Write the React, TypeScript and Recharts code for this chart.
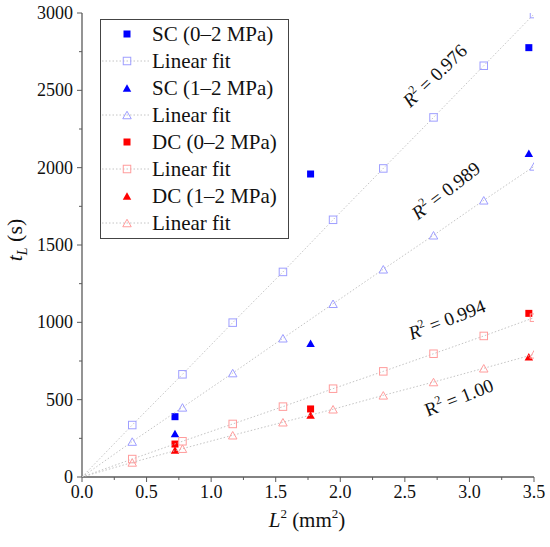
import React from 'react';
import { ScatterChart, Scatter, XAxis, YAxis, ReferenceDot } from 'recharts';

// ---- data ----
const fitX = [0.389, 0.778, 1.167, 1.556, 1.944, 2.333, 2.722, 3.111, 3.5];
const scFitA = [336, 664, 998, 1326, 1663, 1995, 2325, 2659, 2993];
const scFitB = [229, 450, 672, 897, 1120, 1343, 1563, 1789, 2008];
const dcFitA = [116, 231, 343, 455, 571, 683, 797, 912, 1030];
const dcFitB = [94, 183, 270, 354, 438, 528, 614, 703, 793];

const measX = [0.72, 1.77, 3.46];
const scA = [390, 1959, 2776];
const scB = [282, 864, 2094];
const dcA = [213, 440, 1058];
const dcB = [175, 401, 778];

const xTicks = [0, 0.25, 0.5, 0.75, 1, 1.25, 1.5, 1.75, 2, 2.25, 2.5, 2.75, 3, 3.25, 3.5];
const yTicks = [0, 250, 500, 750, 1000, 1250, 1500, 1750, 2000, 2250, 2500, 2750, 3000];

const legendLabels = [
  'SC (0–2 MPa)', 'Linear fit', 'SC (1–2 MPa)', 'Linear fit',
  'DC (0–2 MPa)', 'Linear fit', 'DC (1–2 MPa)', 'Linear fit',
];

const r2Text = ['0.976', '0.989', '0.994', '1.00'];
const r2X = [2.734, 2.82, 2.827, 2.92];
const r2Y = [2593, 1849, 1015, 511];
const r2Angle = [-44, -38, -21, -21.5];
const r2Italic = [true, true, true, false];

// ---- styles ----
const FONT = "'Times New Roman', Times, 'Liberation Serif', 'DejaVu Serif', 'Noto Serif', FreeSerif, serif";
const FS = { fontFamily: FONT };
const AXIS = '#5a5a5a';
const BLUE = '#0000ff';
const RED = '#ff0000';
const LBLUE = '#9e9eff';
const LRED = '#ff9c9c';
const FITLINE = '#c4c4c4';

const toPts = (xs: number[], ys: number[], origin = false) => {
  const pts = xs.map((x, i) => ({ x, y: ys[i] }));
  return origin ? [{ x: 0, y: 0 }, ...pts] : pts;
};

const Marker = ({ kind, filled, color, cx, cy }: any) => {
  if (kind === 'sq') {
    const s = filled ? 7 : 7.5;
    return (
      <rect x={cx - s / 2} y={cy - s / 2} width={s} height={s}
        fill={filled ? color : 'none'} stroke={color} strokeWidth={filled ? 0 : 1} />
    );
  }
  const w = 8.5, h = 7.5;
  return (
    <polygon points={`${cx - w / 2},${cy + h / 2} ${cx + w / 2},${cy + h / 2} ${cx},${cy - h / 2}`}
      fill={filled ? color : 'none'} stroke={color} strokeWidth={filled ? 0 : 1} />
  );
};

const shapeFn = (kind: string, filled: boolean, color: string) => (p: any) => {
  if (p.payload && p.payload.x === 0) return <g />;
  return <Marker kind={kind} filled={filled} color={color} cx={p.cx} cy={p.cy} />;
};

const XTick = (props: any) => {
  const { x, y, payload } = props;
  const v = payload.value;
  const major = Math.abs(v * 2 - Math.round(v * 2)) < 1e-6;
  return (
    <g>
      <line x1={x} x2={x} y1={y} y2={y + (major ? 5 : 3)} stroke={AXIS} strokeWidth={1} />
      {major && (
        <text x={x} y={y + 21} textAnchor="middle" fontSize={18} style={FS} fill="#111">
          {v.toFixed(1)}
        </text>
      )}
    </g>
  );
};

const YTick = (props: any) => {
  const { x, y, payload } = props;
  const v = payload.value;
  const major = v % 500 === 0;
  return (
    <g>
      <line x1={x - (major ? 5 : 3)} x2={x} y1={y} y2={y} stroke={AXIS} strokeWidth={1} />
      {major && (
        <text x={x - 9} y={y + 6} textAnchor="end" fontSize={18} style={FS} fill="#111">
          {v}
        </text>
      )}
    </g>
  );
};

const R2Label = ({ cx, cy, text, angle, italic }: any) => (
  <text x={cx} y={cy + 6} textAnchor="middle" fontSize={19} style={FS} fill="#111"
    transform={`rotate(${angle} ${cx} ${cy})`}>
    <tspan fontStyle={italic ? 'italic' : 'normal'}>R</tspan>
    <tspan fontSize={12} dy={-8}>2</tspan>
    <tspan dy={8}> = {text}</tspan>
  </text>
);

const Legend = () => {
  const rows = legendLabels.map((label, i) => {
    const cy = 15 + 27 * i;
    const isFit = i % 2 === 1;
    const kind = i % 4 < 2 ? 'sq' : 'tri';
    const base = i < 4 ? BLUE : RED;
    const light = i < 4 ? LBLUE : LRED;
    return (
      <g key={i}>
        {isFit && (
          <line x1={2} x2={51} y1={cy} y2={cy} stroke={FITLINE} strokeWidth={1} strokeDasharray="1.5 2" />
        )}
        <Marker kind={kind} filled={!isFit} color={isFit ? light : base} cx={27} cy={cy} />
        <text x={52} y={cy + 7} fontSize={21} style={FS} fill="#111">{label}</text>
      </g>
    );
  });
  return (
    <svg width={189} height={220}
      style={{ position: 'absolute', left: 100, top: 19, overflow: 'visible', fontFamily: FONT }}>
      <rect x={0.5} y={0.5} width={188} height={219} fill="#fff" stroke="#444" strokeWidth={1} />
      {rows}
    </svg>
  );
};

export default function App() {
  const fitLine = { stroke: FITLINE, strokeWidth: 1, strokeDasharray: '1.5 2' };
  return (
    <div style={{ position: 'absolute', left: 0, top: 0, width: 550, height: 547, background: '#fff', fontFamily: FONT }}>
      <ScatterChart width={550} height={547} margin={{ top: 13, right: 16, left: 0, bottom: 0 }}
        style={{ fontFamily: FONT }}>
        <XAxis dataKey="x" type="number" domain={[0, 3.5]} ticks={xTicks} interval={0}
          height={70} tickSize={0} tickMargin={0} tickLine={false} tick={<XTick />}
          axisLine={{ stroke: AXIS, strokeWidth: 1.3 }} allowDataOverflow />
        <XAxis xAxisId="top" orientation="top" dataKey="x" type="number" domain={[0, 3.5]}
          height={0} tick={false} tickLine={false} axisLine={{ stroke: AXIS, strokeWidth: 1.3 }} />
        <YAxis dataKey="y" type="number" domain={[0, 3000]} ticks={yTicks} interval={0}
          width={82} tickSize={0} tickMargin={0} tickLine={false} tick={<YTick />}
          axisLine={{ stroke: AXIS, strokeWidth: 1.3 }} allowDataOverflow />
        <YAxis yAxisId="right" orientation="right" dataKey="y" type="number" domain={[0, 3000]}
          width={0} tick={false} tickLine={false} axisLine={{ stroke: AXIS, strokeWidth: 1.3 }} />

        <Scatter data={toPts(measX, scA)} shape={shapeFn('sq', true, BLUE)} isAnimationActive={false} />
        <Scatter data={toPts(fitX, scFitA, true)} line={fitLine} lineType="joint"
          shape={shapeFn('sq', false, LBLUE)} isAnimationActive={false} />
        <Scatter data={toPts(measX, scB)} shape={shapeFn('tri', true, BLUE)} isAnimationActive={false} />
        <Scatter data={toPts(fitX, scFitB, true)} line={fitLine} lineType="joint"
          shape={shapeFn('tri', false, LBLUE)} isAnimationActive={false} />
        <Scatter data={toPts(measX, dcA)} shape={shapeFn('sq', true, RED)} isAnimationActive={false} />
        <Scatter data={toPts(fitX, dcFitA, true)} line={fitLine} lineType="joint"
          shape={shapeFn('sq', false, LRED)} isAnimationActive={false} />
        <Scatter data={toPts(measX, dcB)} shape={shapeFn('tri', true, RED)} isAnimationActive={false} />
        <Scatter data={toPts(fitX, dcFitB, true)} line={fitLine} lineType="joint"
          shape={shapeFn('tri', false, LRED)} isAnimationActive={false} />

        {r2Text.map((t, i) => (
          <ReferenceDot key={i} x={r2X[i]} y={r2Y[i]} r={0} ifOverflow="visible"
            shape={(p: any) => <R2Label cx={p.cx} cy={p.cy} text={t} angle={r2Angle[i]} italic={r2Italic[i]} />} />
        ))}
      </ScatterChart>

      <svg width={550} height={547} style={{ position: 'absolute', left: 0, top: 0, pointerEvents: 'none', fontFamily: FONT }}>
        <text x={307} y={527} textAnchor="middle" fontSize={21} style={FS} fill="#111">
          <tspan fontStyle="italic">L</tspan>
          <tspan fontSize={13} dy={-9}>2</tspan>
          <tspan dy={9}> (mm</tspan>
          <tspan fontSize={13} dy={-9}>2</tspan>
          <tspan dy={9}>)</tspan>
        </text>
        <text x={0} y={0} textAnchor="middle" fontSize={22} style={FS} fill="#111"
          transform="translate(22 240) rotate(-90)">
          <tspan fontStyle="italic">t</tspan>
          <tspan fontStyle="italic" fontSize={14} dy={5}>L</tspan>
          <tspan dy={-5}> (s)</tspan>
        </text>
      </svg>
      <Legend />
    </div>
  );
}
